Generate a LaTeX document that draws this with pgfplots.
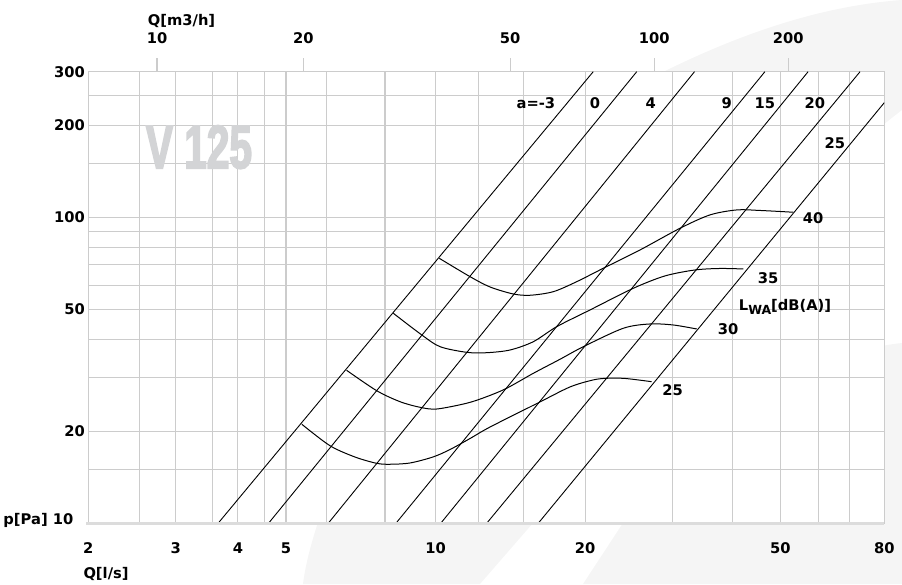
\documentclass[border=0pt]{standalone}
\usepackage{fontspec}
\setmainfont{DejaVu Sans}
\newfontfamily\wmfont[FakeStretch=0.66, BoldFeatures={FakeBold=2.5}]{Liberation Sans}
\usepackage{pgfplots}
\pgfplotsset{compat=1.18}

\definecolor{gridc}{HTML}{CCCCCC}
\definecolor{bgc}{HTML}{F5F5F5}
\definecolor{wmc}{HTML}{D3D4D6}
\definecolor{axc}{HTML}{DCDCDC}

\newcommand{\lbl}{\fontsize{14.7}{16}\selectfont\bfseries}

\begin{document}
\begin{tikzpicture}
% faint decorative background
\fill[bgc] (303pt,0pt) .. controls (315pt,100pt) and (450pt,400pt) .. (663pt,512pt)
  .. controls (740pt,550pt) and (820pt,578pt) .. (902pt,584pt) -- (902pt,474pt)
  .. controls (780pt,380pt) and (600pt,200pt) .. (533pt,61pt) -- (480pt,0pt) -- cycle;
\fill[bgc] (583pt,0pt) -- (623pt,61pt) .. controls (700pt,160pt) and (800pt,230pt) .. (902pt,241pt) -- (902pt,0pt) -- cycle;

\begin{axis}[
  name=ax,
  at={(88.3pt,60.7pt)}, anchor=south west,
  width=796pt, height=451.6pt, scale only axis,
  xmode=log, ymode=log,
  xmin=2, xmax=80, ymin=10, ymax=300,
  axis background/.style={fill=white},
  axis line style={draw=gridc, line width=1.1pt},
  grid=major, major grid style={draw=gridc, line width=1.1pt},
  xtick={2,2.54,3,3.55,4,4.53,5,6.04,7.91,10,12.2,15,20,30,39.6,49.4,59,68,80},
  xticklabels={2,,3,,4,,5,,,10,,,20,,,50,,,80},
  ytick={10,15,20,30,40,50,60,70,80,90,100,150,200,250,300},
  yticklabels={,,20,,,50,,,,,100,,200,,300},
  major tick length=0pt,
  ticklabel style={font=\lbl},
  xticklabel style={anchor=base, yshift=-30pt},
  yticklabel style={anchor=east},
]
% watermark
\node[wmc, font=\wmfont\bfseries\fontsize{61.5}{62}\selectfont] at (axis cs:3.34,170) {V 125};

% system lines a = const
\addplot[black, line width=0.9pt] coordinates {(3.65,10) (20.76,300)};
\addplot[black, line width=0.9pt] coordinates {(4.61,10) (25.4,300)};
\addplot[black, line width=0.9pt] coordinates {(6.08,10) (33.2,300)};
\addplot[black, line width=0.9pt] coordinates {(8.32,10) (46.0,300)};
\addplot[black, line width=0.9pt] coordinates {(10.24,10) (56.2,300)};
\addplot[black, line width=0.9pt] coordinates {(12.67,10) (71.5,300)};
\addplot[black, line width=0.9pt] coordinates {(16.09,10) (80,237.6)};

% sound power curves
\addplot[black, line width=1pt, smooth, tension=0.5] coordinates {
 (5.38,21.08) (6.13,17.94) (6.88,16.48) (7.61,15.71) (8.09,15.6) (8.88,15.75)
 (9.88,16.48) (10.69,17.43) (11.73,18.94) (12.87,20.65) (16.07,24.75) (18.64,27.92)
 (20.74,29.43) (22.13,29.81) (24.06,29.77) (27.22,29.05)};
\addplot[black, line width=1pt, smooth, tension=0.5] coordinates {
 (6.62,31.66) (7.61,27.15) (8.48,24.99) (9.30,23.96) (10.05,23.65)
 (11.55,24.70) (12.67,25.95) (13.9,27.65) (15.73,30.95) (17.8,34.4)
 (19.83,37.82) (23.86,43.44) (27.0,44.87) (30.08,44.53) (33.54,43.21)};
\addplot[black, line width=1pt, smooth, tension=0.5] coordinates {
 (8.22,48.64) (9.38,41.3) (10.21,37.82) (11.55,36.25) (12.67,36.14)
 (14.12,36.89) (15.73,39.27) (17.53,43.97) (20.45,49.86) (25.0,58.71)
 (28.94,64.42) (33.27,67.39) (37.34,68.15) (41.62,67.9)};
\addplot[black, line width=1pt, smooth, tension=0.5] coordinates {
 (10.17,73.6) (11.73,64.08) (12.87,59.29) (14.33,56.25) (15.49,55.7)
 (17.25,57.22) (19.23,61.7) (21.75,68.26) (25.78,78.34) (31.04,92.26)
 (35.66,102) (40.35,105.9) (44.96,105.5) (52.46,104.1)};

% labels
\node[font=\lbl] at (axis cs:15.92,236.5) {a=-3};
\node[font=\lbl] at (axis cs:20.93,236.5) {0};
\node[font=\lbl] at (axis cs:27.1,236.5) {4};
\node[font=\lbl] at (axis cs:38.55,236.5) {9};
\node[font=\lbl] at (axis cs:46.0,236.5) {15};
\node[font=\lbl] at (axis cs:58.0,236.5) {20};
\node[font=\lbl] at (axis cs:63.6,175.4) {25};
\node[font=\lbl] at (axis cs:57.5,99.7) {40};
\node[font=\lbl] at (axis cs:46.7,63.3) {35};
\node[font=\lbl] at (axis cs:38.8,43.1) {30};
\node[font=\lbl] at (axis cs:30.0,27.3) {25};
\node[font=\lbl] at (axis cs:50.5,51.1) {L\raisebox{-3.5pt}{\fontsize{12.5}{13}\selectfont WA}[dB(A)]};
\end{axis}

% top axis in m3/h
\begin{axis}[
  at={(88.3pt,60.7pt)}, anchor=south west,
  width=796pt, height=451.6pt, scale only axis,
  xmode=log, xmin=2, xmax=80, ymin=0, ymax=1,
  hide y axis, axis x line*=top,
  axis line style={draw=none},
  xtick={2.75,5.42,14.12,27.55,51.26},
  xticklabels={10,20,50,100,200},
  tick align=outside, major tick length=13.4pt,
  tick style={draw=gridc, line width=1.1pt},
  ticklabel style={font=\lbl},
  xticklabel style={anchor=base, yshift=15pt},
]
\end{axis}

\draw[axc, line width=2.6pt] (86pt,60.7pt) -- (884.3pt,60.7pt);

\node[font=\lbl, anchor=base east, inner sep=0pt] at (73.5pt,60pt) {p[Pa] 10};
\node[font=\lbl, anchor=base west, inner sep=0pt] at (83.3pt,6pt) {Q[l/s]};
\node[font=\lbl, anchor=base west, inner sep=0pt] at (147.7pt,558pt) {Q[m3/h]};

\pgfresetboundingbox
\path (0pt,0pt) rectangle (902pt,584pt);
\end{tikzpicture}
\end{document}
